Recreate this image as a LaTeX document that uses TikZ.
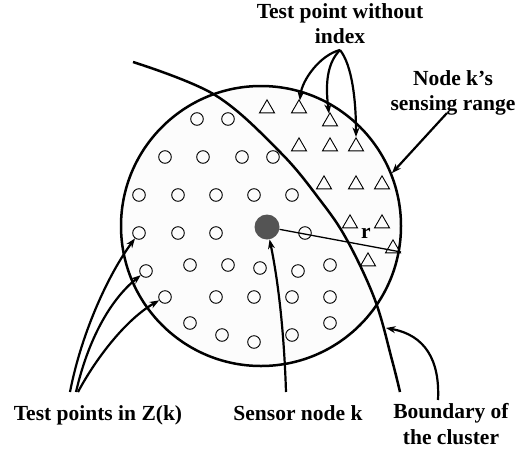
\documentclass[tikz,border=0pt]{standalone}
\usepackage{fontspec}
\setmainfont{Liberation Serif}
\usetikzlibrary{shapes.geometric,arrows.meta,calc}
\begin{document}
\begin{tikzpicture}[x=1pt,y=-1pt,
  lbl/.style={font=\fontsize{21.5}{25}\selectfont\bfseries, align=center, inner sep=0pt},
  tp/.style={circle, draw, line width=0.9pt, minimum size=12.6pt, inner sep=0pt},
  tri/.style={regular polygon, regular polygon sides=3, draw, line width=0.9pt, minimum size=17.3pt, inner sep=0pt},
  arr/.style={line width=2.2pt, -{Stealth[length=9.5pt,width=7pt]}},
  thickline/.style={line width=2.5pt}]
\useasboundingbox (0,0) rectangle (527,453);

% sensing range
\node[circle, draw, thickline, minimum size=280pt, inner sep=0pt, fill=black!1] (range) at (261,226) {};

% test points in Z(k)
\foreach \x/\y [count=\i] in {197/119,228/119,
  165/157,203/157,242/157,273/157,
  139/195,178/195,216/195,254/195,292/195,
  139/233,178/233,216/233,305/233,
  146/271,190/265,228/265,260/268,298/271,330/265,
  165/297,216/297,254/297,292/297,330/297,
  190/323,222/335,254/342,292/335,330/323}
  \node[tp] (c\i) at (\x,\y) {};

% test points without index
\foreach \x/\y [count=\i] in {267/107,299/107,330/120,299/145,330/145,356/145,
  324/183,356/183,382/183,350/222,382/222,393/247,368/260}
  \node[tri] (t\i) at (\x,\y+1.5) {};

% boundary of the cluster
\draw[thickline] plot[smooth, tension=0.6] coordinates {(133,62) (215,95) (280,152) (320,200) (347,240) (375,300) (392,360) (400,392)};

% sensor node and radius
\coordinate (rend) at (401,252);
\node[circle, fill=black!67, minimum size=25pt, inner sep=0pt] (sensor) at (267,227) {};
\draw[line width=1.3pt] (sensor) -- (rend);
\node[font=\fontsize{21.5}{25}\selectfont\bfseries, inner sep=0pt] (rlbl) at (366,233) {r};

% labels
\node[lbl, anchor=north] (tpw) at (340,3) {Test point without\\index};
\node[lbl, anchor=north] (nks) at (453,70) {Node k’s\\[0.5pt]sensing range};
\node[lbl, anchor=base] (tpz) at (98,420) {Test points in Z(k)};
\node[lbl, anchor=base] (snk) at (298,420) {Sensor node k};
\node[lbl, anchor=north] (boc) at (451,403) {Boundary of\\[1pt]the cluster};

% arrow start points
\coordinate (tpwS) at (340,50);
\coordinate (nksS) at (447,113);
\coordinate (zA) at (70,392);
\coordinate (zB) at (76,392);
\coordinate (zC) at (78,392);
\coordinate (snkS) at (286,392);
\coordinate (bocS) at (438,400);
\coordinate (bocE) at (386,328);

% arrows
\draw[arr] (tpwS) .. controls (320,55) and (302,80) .. (t2);
\draw[arr] (tpwS) .. controls (325,65) and (326,90) .. (t3);
\draw[arr] (tpwS) .. controls (352,65) and (356,100) .. (t6);
\draw[arr] (nksS) -- (range.22);
\draw[arr] (zA) .. controls (82,330) and (110,272) .. (c12);
\draw[arr] (zB) .. controls (88,340) and (110,300) .. (c16);
\draw[arr] (zC) .. controls (95,360) and (125,320) .. (c22);
\draw[arr] (snkS) .. controls (284,330) and (278,280) .. (sensor);
\draw[arr] (bocS) .. controls (440,360) and (425,335) .. (bocE);
\end{tikzpicture}
\end{document}
